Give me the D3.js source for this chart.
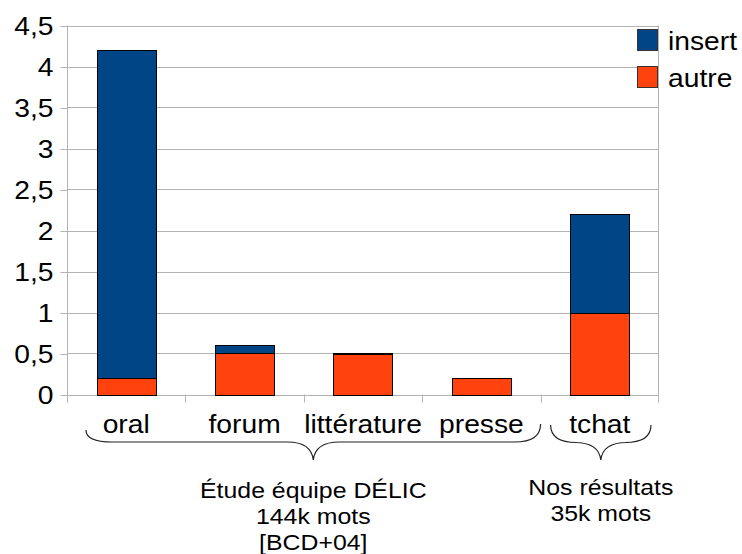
<!DOCTYPE html>
<html>
<head>
<meta charset="utf-8">
<script src="https://cdn.jsdelivr.net/npm/d3@7/dist/d3.min.js"></script>
<style>
  html, body { margin: 0; padding: 0; background: #fff; }
  svg { display: block; }
  text { font-family: "Liberation Sans", Arial, sans-serif; fill: #000; }
</style>
</head>
<body>
<svg id="chart" width="742" height="554"></svg>
<script>
// Stacked share of "insert" vs "autre" per corpus
const categories = ["oral", "forum", "littérature", "presse", "tchat"];
const seriesNames = ["autre", "insert"];
const autreValues = [0.2, 0.5, 0.5, 0.2, 1.0];
const insertValues = [4.0, 0.1, 0.01, 0, 1.2];
const yTickValues = [0, 0.5, 1, 1.5, 2, 2.5, 3, 3.5, 4, 4.5];
const yTickLabels = ["0", "0,5", "1", "1,5", "2", "2,5", "3", "3,5", "4", "4,5"];
const legendNames = ["insert", "autre"];
const groupNotes = [
  { from: "oral", to: "presse", lines: ["Étude équipe DÉLIC", "144k mots", "[BCD+04]"] },
  { from: "tchat", to: "tchat", lines: ["Nos résultats", "35k mots"] }
];

const colors = { insert: "#004586", autre: "#ff420e" };
const gridColor = "#b3b3b3";
const sx = 1.13; // slight horizontal widening of the lettering

const svg = d3.select("#chart");
const plotLeft = 67, plotRight = 659, plotTop = 25.5, plotBottom = 394.5;

const x = d3.scaleBand().domain(categories).range([plotLeft, plotRight]).paddingInner(0).paddingOuter(0);
const y = d3.scaleLinear().domain([0, 4.5]).range([plotBottom, plotTop]);
const bw = x.bandwidth();

// stacked data
const rows = categories.map((c, i) => ({ cat: c, autre: autreValues[i], insert: insertValues[i] }));
const stack = d3.stack().keys(seriesNames)(rows);

// horizontal gridlines
svg.append("g").selectAll("line").data(yTickValues).join("line")
  .attr("x1", plotLeft).attr("x2", plotRight)
  .attr("y1", d => Math.round(y(d)) + 0.5).attr("y2", d => Math.round(y(d)) + 0.5)
  .attr("stroke", gridColor).attr("stroke-width", 1);

// y axis
const yAxis = svg.append("g").attr("transform", `translate(${plotLeft + 0.5},0)`)
  .call(d3.axisLeft(y).tickValues(yTickValues).tickSize(7).tickSizeOuter(0)
    .tickFormat((d, i) => yTickLabels[i]));
yAxis.select(".domain").remove();
yAxis.selectAll(".tick line").attr("stroke", gridColor)
  .attr("transform", "translate(0,0.5)");
yAxis.selectAll(".tick text")
  .attr("x", -14 / sx).attr("dy", "0.37em")
  .attr("transform", `scale(${sx},1)`)
  .style("font-size", "25px").style("font-family", "'Liberation Sans', Arial, sans-serif");

// vertical frame lines and category boundary ticks
svg.append("line").attr("x1", plotLeft + 0.5).attr("x2", plotLeft + 0.5)
  .attr("y1", plotTop).attr("y2", plotBottom + 8).attr("stroke", gridColor);
svg.append("line").attr("x1", plotRight - 0.5).attr("x2", plotRight - 0.5)
  .attr("y1", plotTop).attr("y2", plotBottom + 8).attr("stroke", gridColor);
const bounds = categories.map(c => x(c)).concat([plotRight]);
svg.append("g").selectAll("line").data(bounds.slice(1, -1)).join("line")
  .attr("x1", d => Math.round(d) + 0.5).attr("x2", d => Math.round(d) + 0.5)
  .attr("y1", plotBottom).attr("y2", plotBottom + 8).attr("stroke", gridColor);

// bars
svg.append("g").selectAll("g").data(stack).join("g")
  .attr("fill", d => colors[d.key])
  .selectAll("rect").data(d => d.filter(p => p[1] - p[0] > 0)).join("rect")
  .attr("x", d => Math.round(x(d.data.cat) + bw * 0.25) + 0.5)
  .attr("width", Math.round(bw * 0.5))
  .attr("y", d => Math.round(y(d[1])) + 0.5)
  .attr("height", d => Math.max(1, Math.round(y(d[0])) - Math.round(y(d[1]))))
  .attr("stroke", "#000").attr("stroke-width", 1);

// category labels
svg.append("g").selectAll("text").data(categories).join("text")
  .attr("transform", d => `translate(${x(d) + bw / 2},433) scale(${sx},1)`)
  .attr("text-anchor", "middle").style("font-size", "25px")
  .text(d => d);

// legend
const leg = svg.append("g");
legendNames.forEach((name, i) => {
  leg.append("rect").attr("x", 637.5).attr("y", 29.5 + i * 37)
    .attr("width", 20).attr("height", 21)
    .attr("fill", colors[name]).attr("stroke", "#333").attr("stroke-width", 1);
  leg.append("text").attr("transform", `translate(668,${50 + i * 37}) scale(${sx},1)`)
    .style("font-size", "25px").text(name);
});

// curly braces grouping the corpora
function brace(x0, x1, yL, yR, yMid, yTip) {
  const xm = (x0 + x1) / 2;
  return `M${x0},${yL} Q${x0},${yMid} ${x0 + 26},${yMid} L${xm - 26},${yMid} ` +
    `Q${xm - 2},${yMid} ${xm},${yTip} Q${xm + 2},${yMid} ${xm + 26},${yMid} ` +
    `L${x1 - 26},${yMid} Q${x1},${yMid} ${x1},${yR}`;
}
const braceSpecs = [
  { x0: x("oral") + 19, x1: x("presse") + bw, yL: 430, yR: 424, yMid: 442, yTip: 460 },
  { x0: x("tchat") + 10, x1: x("tchat") + bw - 8, yL: 425, yR: 425, yMid: 442.5, yTip: 460 }
];
svg.append("g").selectAll("path").data(braceSpecs).join("path")
  .attr("d", d => brace(d.x0, d.x1, d.yL, d.yR, d.yMid, d.yTip))
  .attr("fill", "none").attr("stroke", "#222").attr("stroke-width", 1.2);

// group notes under the braces
const noteBase = [498, 495];
groupNotes.forEach((g, gi) => {
  const cx = (braceSpecs[gi].x0 + braceSpecs[gi].x1) / 2;
  g.lines.forEach((line, li) => {
    svg.append("text")
      .attr("transform", `translate(${cx},${noteBase[gi] + li * 26}) scale(${sx},1)`)
      .attr("text-anchor", "middle").style("font-size", "22px").text(line);
  });
});
</script>
</body>
</html>
